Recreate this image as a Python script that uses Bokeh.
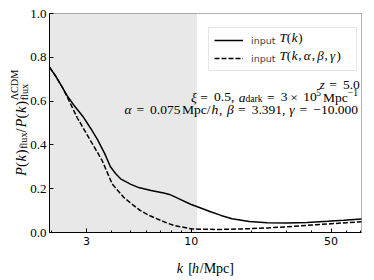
import math
from bokeh.plotting import figure
from bokeh.models import (Range1d, FixedTicker, PrintfTickFormatter, BoxAnnotation,
                          Label, Legend, LegendItem)
from bokeh.embed import file_html
from bokeh.resources import INLINE

# ---------------- data ----------------
k_solid = [1.96, 2.1, 2.25, 2.4, 2.6, 2.9, 3.15, 3.4, 3.7, 3.95, 4.2, 4.44, 5.0, 5.4, 6.3,
           7.3, 7.8, 8.5, 10.0, 11.0, 12.5, 14.1, 16.0, 19.5, 24.0, 30.0, 38.0, 48.0,
           58.0, 71.0]
y_solid = [0.755, 0.715, 0.67, 0.625, 0.58, 0.526, 0.475, 0.425, 0.36, 0.300, 0.268,
           0.245, 0.22, 0.207, 0.192, 0.180, 0.174, 0.158, 0.128, 0.114, 0.095, 0.078,
           0.063, 0.050, 0.044, 0.043, 0.046, 0.051, 0.056, 0.062]

k_dashed = [1.96, 2.1, 2.25, 2.4, 2.69, 3.14, 3.59, 4.03, 4.6, 5.1, 5.58, 6.1, 6.77, 7.5,
            8.21, 9.96, 11.0, 14.0, 18.0, 24.0, 30.0, 40.0, 50.0, 60.0, 71.0]
y_dashed = [0.755, 0.715, 0.67, 0.62, 0.526, 0.42, 0.329, 0.222, 0.161, 0.127, 0.100,
            0.080, 0.062, 0.045, 0.032, 0.017, 0.015, 0.014, 0.016, 0.021, 0.026, 0.034,
            0.040, 0.045, 0.049]

k_min, k_max = 1.96, 71.0
y_min, y_max = 0.0, 1.0
shade_kmax = 10.7
x_major = [3, 10, 50]
x_minor = [2, 4, 5, 6, 7, 8, 9, 20, 30, 40, 60, 70]
y_ticks = [0.0, 0.2, 0.4, 0.6, 0.8, 1.0]
legend_labels = ["input", "input"]

SERIF = "Liberation Serif"
SANS = "DejaVu Sans"

# ---------------- layout: frame fills canvas, data box inside ----------------
W, H = 374, 280
BL, BR, BT, BB = 49, 361, 13, 232      # data box in canvas pixels
lk0, lk1 = math.log10(k_min), math.log10(k_max)
dpp = (lk1 - lk0) / (BR - BL)
x_start = 10 ** (lk0 - BL * dpp)
x_end = 10 ** (lk1 + (W - BR) * dpp)
ypp = (y_max - y_min) / (BB - BT)
y_start = y_min - (H - BB) * ypp
y_end = y_max + BT * ypp

p = figure(width=W, height=H, x_axis_type="log",
           x_range=Range1d(x_start, x_end), y_range=Range1d(y_start, y_end),
           output_backend="svg", toolbar_location=None,
           min_border_left=0, min_border_right=0, min_border_top=0, min_border_bottom=0)
p.min_border = 0
p.background_fill_color = "white"
p.border_fill_color = "white"
p.outline_line_color = None
p.xgrid.visible = False
p.ygrid.visible = False

p.xaxis.fixed_location = y_min
p.xaxis.bounds = (k_min, k_max)
p.yaxis.fixed_location = k_min
p.yaxis.bounds = (y_min, y_max)
p.xaxis.ticker = FixedTicker(ticks=x_major, minor_ticks=x_minor)
p.xaxis.formatter = PrintfTickFormatter(format="%d")
p.yaxis.ticker = FixedTicker(ticks=y_ticks)
p.yaxis.formatter = PrintfTickFormatter(format="%.1f")
for ax in (p.xaxis, p.yaxis):
    ax.axis_line_color = "black"
    ax.major_tick_in = 4
    ax.major_tick_out = 0
    ax.minor_tick_in = 2
    ax.minor_tick_out = 0
    ax.major_tick_line_color = "black"
    ax.minor_tick_line_color = "black"
    ax.major_label_text_color = "black"
p.yaxis.minor_tick_line_color = None
p.xaxis.major_label_text_font = SANS
p.xaxis.major_label_text_font_size = "11px"
p.xaxis.major_label_standoff = 4
p.yaxis.major_label_text_font = SERIF
p.yaxis.major_label_text_font_size = "13px"
p.yaxis.major_label_standoff = 3

p.add_layout(BoxAnnotation(left=k_min, right=shade_kmax, bottom=y_min, top=y_max,
                           fill_color="#e8e8e8", fill_alpha=1.0, line_color=None,
                           level="underlay"))

r1 = p.line(k_solid, y_solid, line_color="black", line_width=1.5)
r2 = p.line(k_dashed, y_dashed, line_color="black", line_width=1.5, line_dash="5 2")

# data-box outline
p.add_layout(BoxAnnotation(left=k_min, right=k_max, bottom=y_min, top=y_max,
                           fill_alpha=0.0, line_color="black", line_width=1,
                           level="overlay"))

# ---------------- legend ----------------
leg = Legend(items=[LegendItem(label=legend_labels[0], renderers=[r1]),
                    LegendItem(label=legend_labels[1], renderers=[r2])],
             location=(208, H - 71), margin=0, padding=5, spacing=4,
             glyph_width=29, glyph_height=14, label_height=14, label_width=100,
             label_standoff=8, label_text_font=SANS, label_text_font_size="9.5px",
             border_line_color="#cccccc", border_line_width=1,
             background_fill_color=None, background_fill_alpha=0.0)
p.add_layout(leg)

# ---------------- rich text helpers ----------------
CM = {"0": .5, "1": .5, "2": .5, "3": .5, "4": .5, "5": .5, "6": .5, "7": .5, "8": .5,
      "9": .5, ".": .278, ",": .278, "(": .389, ")": .389, "[": .278, "]": .278, "/": .36,
      "=": .778, "×": .778, "−": .778, "M": .917, "p": .556, "c": .444, "a": .5, "d": .556,
      "r": .392, "k": .528, "f": .306, "l": .278, "u": .556, "x": .528, "C": .722,
      "D": .764, "Λ": .694}
CMI = {"P": .642, "T": .584, "k": .521, "h": .576, "z": .465, "a": .529, "α": .640,
       "β": .566, "γ": .518, "ξ": .438}


def tw(s, it):
    tab = CMI if it else CM
    return sum(tab.get(c, CM.get(c, .5)) for c in s)


def R(t, sc=1.0, sh=0.0, stack=False):
    return (t, False, sc, sh, stack)


def I(t, sc=1.0, sh=0.0, stack=False):
    return (t, True, sc, sh, stack)


def lab(px, py, s, size, italic=False, angle=0.0):
    p.add_layout(Label(x=px, y=H - py, x_units="screen", y_units="screen", text=s,
                       text_font=SERIF, text_font_size=f"{size:.1f}px",
                       text_font_style="italic" if italic else "normal",
                       text_align="left", text_baseline="alphabetic", angle=angle,
                       text_color="black", level="overlay"))


def place(runs, ax, ay, size, align="left", rot=False):
    items = []
    cur = 0.0
    prev = 0.0
    for r in runs:
        if isinstance(r, float):
            cur += r * size
            continue
        t, it, sc, sh, stack = r
        w = tw(t, it) * size * sc
        if stack:
            start = prev
            cur = max(cur, start + w)
        else:
            start = cur
            cur += w
        prev = start
        items.append((start, t, it, sc, sh))
    off = {"left": 0.0, "center": -cur / 2, "right": -cur}[align]
    for start, t, it, sc, sh in items:
        d = start + off
        if rot:
            lab(ax - sh * size, ay - d, t, size * sc * 1.04, it, angle=math.pi / 2)
        else:
            lab(ax + d, ay - sh * size, t, size * sc * 1.04, it)


G = 0.278
# annotation block (right aligned)
place([I("z"), G, R("="), G, R("5.0")], 359, 84, 13, "right")
place([I("ξ"), G, R("="), G, R("0.5,"), 0.333, I("a"), R("dark", .7, -.15), G, R("="), G,
       R("3"), .222, R("×"), .222, R("10"), R("5", .7, .36), .167, R("Mpc"),
       R("−1", .7, .36)], 359, 96.5, 13, "right")
place([I("α"), G, R("="), G, R("0.075"), .167, R("Mpc/"), I("h"), R(","), .333, I("β"), G,
       R("="), G, R("3.391,"), .333, I("γ"), G, R("="), G, R("−10.000")],
      359, 109, 13, "right")

# legend math parts
place([I("T"), R("("), I("k"), R(")")], 279, 36.5, 12.5)
place([I("T"), R("("), I("k"), R(","), .167, I("α"), R(","), .167, I("β"), R(","), .167,
       I("γ"), R(")")], 279, 54.5, 12.5)

# x axis label
place([I("k"), .333, R("["), I("h"), R("/Mpc]")], 205, 268, 13.5, "center")
# y axis label (rotated)
place([I("P"), R("("), I("k"), R(")"), R("flux", .7, -.2), R("/"), I("P"), R("("), I("k"),
       R(")"), R("ΛCDM", .7, .45), R("flux", .7, -.25, True)], 20, 122.5, 14, "center",
      rot=True)

open("out.html", "w").write(file_html(p, INLINE))
